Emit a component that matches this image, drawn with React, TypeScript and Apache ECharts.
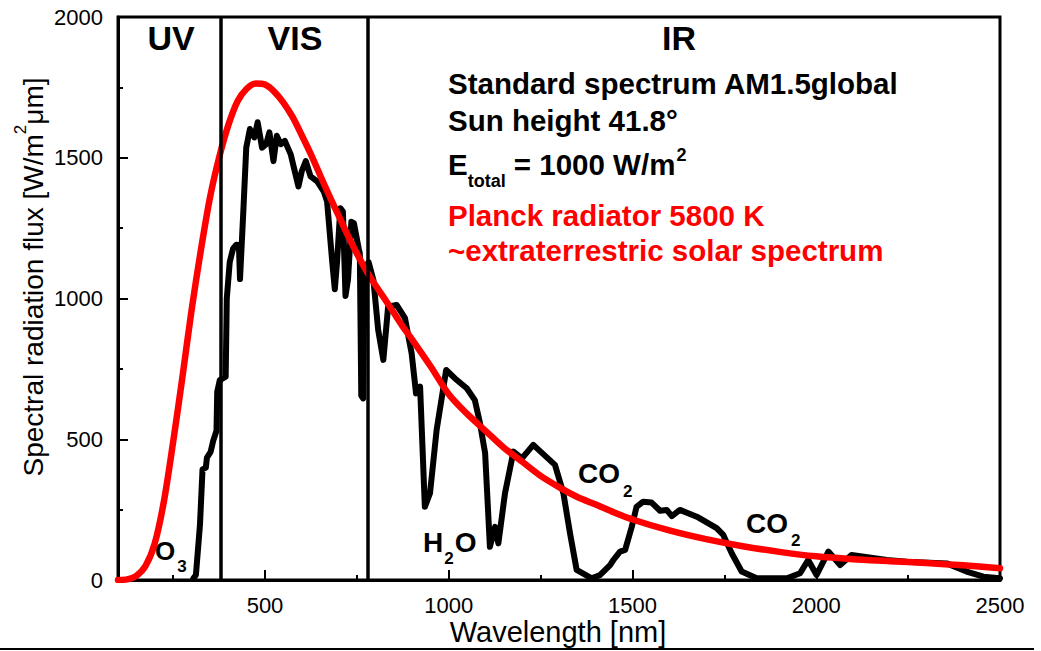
import React, { useEffect, useRef } from "react";
import * as echarts from "echarts";

const FONT = "'Liberation Sans', Arial, Helvetica, sans-serif";

// AM1.5 global standard spectrum
const amWavelength = [
  305, 312, 323, 330, 339, 342, 352, 359, 368, 370, 377, 393, 396, 404, 413, 422, 429, 432, 441, 449,
  459, 471, 480, 492, 503, 512, 523, 532, 543, 554, 570, 581, 591, 600, 611, 624, 642, 660, 669, 683,
  690, 696, 705, 712, 719, 726, 735, 742, 755, 758, 762, 767, 771, 782, 795, 808, 822, 835, 858, 881,
  899, 911, 922, 935, 949, 967, 993, 1017, 1049, 1071, 1085, 1099, 1112, 1126, 1135, 1153, 1176, 1199, 1230, 1289,
  1312, 1330, 1348, 1389, 1412, 1439, 1448, 1466, 1480, 1498, 1511, 1529, 1552, 1575, 1593, 1607, 1629, 1675, 1729, 1747,
  1770, 1797, 1838, 1920, 1956, 1978, 2001, 2033, 2065, 2096, 2192, 2246, 2355, 2409, 2455, 2500,
];
const amFlux = [
  5, 18, 195, 393, 399, 435, 455, 494, 530, 668, 710, 722, 1000, 1129, 1177, 1191, 1189, 1069, 1309, 1536,
  1602, 1572, 1626, 1536, 1548, 1590, 1488, 1578, 1548, 1560, 1512, 1452, 1398, 1452, 1488, 1434, 1416, 1380, 1344, 1129,
  1033, 1129, 1321, 1309, 1009, 1069, 1273, 1267, 1177, 1160, 655, 645, 1110, 1129, 1066, 888, 782, 971, 977, 930,
  805, 663, 687, 260, 308, 533, 746, 716, 681, 639, 557, 450, 118, 189, 130, 308, 456, 432, 480, 409,
  308, 166, 36, 6, 18, 53, 71, 101, 107, 189, 260, 278, 275, 246, 249, 227, 249, 225, 184, 160,
  95, 30, 6, 6, 24, 71, 18, 101, 53, 89, 71, 65, 59, 30, 12, 6,
];

// Planck radiator 5800 K
const planckWavelength = [
  100, 125, 150, 175, 200, 225, 250, 275, 300, 325, 350, 375, 400, 425, 450, 475, 500, 525, 550, 575,
  600, 625, 650, 675, 700, 725, 750, 775, 800, 825, 850, 875, 900, 950, 1000, 1050, 1100, 1150, 1200, 1250,
  1300, 1350, 1400, 1450, 1500, 1600, 1700, 1800, 1900, 2000, 2100, 2200, 2300, 2400, 2500,
];
const planckFlux = [
  0, 2, 15, 50, 130, 280, 490, 718, 957, 1168, 1357, 1500, 1615, 1700, 1745, 1764, 1760, 1735, 1696, 1645,
  1580, 1512, 1438, 1365, 1295, 1225, 1160, 1100, 1048, 1000, 950, 900, 855, 760, 660, 590, 530, 470, 420, 370,
  330, 295, 268, 240, 215, 176, 145, 120, 100, 84, 74, 67, 60, 52, 42,
];

const xMajorTicks = [500, 1000, 1500, 2000, 2500];
const xMinorTicks = [250, 750, 1250, 1750, 2250];
const regionBounds = [380, 780];

function measure(text: string, size: number, weight = "normal"): number {
  const c = document.createElement("canvas").getContext("2d");
  if (!c) return text.length * size * 0.55;
  c.font = `${weight} ${size}px ${FONT}`;
  return c.measureText(text).width;
}

function txt(x: number, y: number, text: string, size: number, opts: any = {}) {
  const align = opts.align || "left";
  return {
    type: "text",
    x,
    y,
    silent: true,
    z: 100,
    style: {
      text,
      fontSize: size,
      fontWeight: opts.weight || "bold",
      fontFamily: FONT,
      fill: opts.color || "#000",
      align,
      textAlign: align,
      verticalAlign: "middle",
      textVerticalAlign: "middle",
    },
  };
}

function buildGraphics() {
  const g: any[] = [];
  // Regions
  g.push(txt(171, 38, "UV", 34, { align: "center" }));
  g.push(txt(295, 38, "VIS", 34, { align: "center" }));
  g.push(txt(679, 38, "IR", 34, { align: "center" }));

  // Text block
  const bx = 448;
  const bs = 29.5;
  g.push(txt(bx, 83, "Standard spectrum AM1.5global", bs));
  g.push(txt(bx, 120, "Sun height 41.8°", bs));
  const wE = measure("E", bs, "bold");
  g.push(txt(bx, 164, "E", bs));
  g.push(txt(bx + wE, 181, "total", 18));
  const xEq = bx + wE + measure("total", 18, "bold") + measure(" ", bs, "bold");
  g.push(txt(xEq, 164, "= 1000 W/m", bs));
  g.push(txt(xEq + measure("= 1000 W/m", bs, "bold") + 1, 155, "2", 18));
  g.push(txt(bx, 215, "Planck radiator 5800 K", bs, { color: "#ff0000" }));
  g.push(txt(bx, 250, "~extraterrestric solar spectrum", bs, { color: "#ff0000" }));

  // Absorption labels
  const wO26 = measure("O", 26, "bold");
  g.push(txt(155, 551, "O", 26));
  g.push(txt(155 + wO26 + 2, 566, "3", 17));

  const wH = measure("H", 28, "bold");
  const w2 = measure("2", 17, "bold");
  g.push(txt(423, 542, "H", 28));
  g.push(txt(423 + wH + 1, 558, "2", 17));
  g.push(txt(423 + wH + w2 + 2, 542, "O", 28));

  const wCO = measure("CO", 28, "bold");
  g.push(txt(578, 473, "CO", 28));
  g.push(txt(578 + wCO + 3, 491, "2", 17));
  g.push(txt(746, 523, "CO", 28));
  g.push(txt(746 + wCO + 3, 540, "2", 17));

  // Axis titles
  g.push(txt(558, 632, "Wavelength [nm]", 29, { align: "center", weight: "normal" }));

  const p1 = "Spectral radiation flux [W/m";
  const p2 = "2";
  const p3 = "μm]";
  const w1 = measure(p1, 28);
  const wS = measure(p2, 17);
  const w3 = measure(p3, 28);
  const L = w1 + wS + w3;
  g.push({
    type: "group",
    x: 33,
    y: 277,
    rotation: Math.PI / 2,
    silent: true,
    children: [
      txt(-L / 2, 0, p1, 28, { weight: "normal" }),
      txt(-L / 2 + w1, -13, p2, 17, { weight: "normal" }),
      txt(-L / 2 + w1 + wS, 0, p3, 28, { weight: "normal" }),
    ],
  });

  // Bottom rule
  g.push({
    type: "line",
    silent: true,
    shape: { x1: 0, y1: 649, x2: 1034, y2: 649 },
    style: { stroke: "#000", lineWidth: 2 },
  });
  return g;
}

const plain = (v: number) => String(v);

export default function App() {
  const ref = useRef<HTMLDivElement>(null);

  useEffect(() => {
    if (!ref.current) return;
    const chart = echarts.init(ref.current, undefined, { renderer: "svg" });
    const tickStyle = { color: "#000", width: 2 };
    const option: any = {
      animation: false,
      backgroundColor: "#fff",
      grid: {
        left: 118,
        right: 41,
        top: 17,
        bottom: 71,
        show: true,
        borderColor: "#000",
        borderWidth: 3,
      },
      xAxis: [
        {
          type: "value",
          min: 100,
          max: 2500,
          position: "bottom",
          axisLine: { show: true, onZero: false, lineStyle: { color: "#000", width: 3 } },
          axisTick: { show: true, inside: true, length: 10, customValues: xMajorTicks, lineStyle: tickStyle },
          axisLabel: {
            show: true,
            customValues: xMajorTicks,
            formatter: plain,
            color: "#000",
            fontSize: 22,
            fontFamily: FONT,
            margin: 14,
          },
          splitLine: { show: false },
        },
        {
          type: "value",
          min: 100,
          max: 2500,
          position: "bottom",
          axisLine: { show: false, onZero: false },
          axisTick: { show: true, inside: true, length: 5, customValues: xMinorTicks, lineStyle: tickStyle },
          axisLabel: { show: false },
          splitLine: { show: false },
        },
      ],
      yAxis: {
        type: "value",
        min: 0,
        max: 2000,
        interval: 500,
        axisLine: { show: true, onZero: false, lineStyle: { color: "#000", width: 3 } },
        axisTick: { show: true, inside: true, length: 10, lineStyle: tickStyle },
        minorTick: { show: true, splitNumber: 2, length: 5, lineStyle: tickStyle },
        axisLabel: { color: "#000", fontSize: 22, fontFamily: FONT, margin: 15, formatter: plain },
        splitLine: { show: false },
        minorSplitLine: { show: false },
      },
      series: [
        {
          name: "AM1.5global",
          type: "line",
          xAxisIndex: 0,
          data: amWavelength.map((w, i) => [w, amFlux[i]]),
          symbol: "none",
          showSymbol: false,
          lineStyle: { color: "#000", width: 6, join: "round", cap: "round" },
          z: 2,
          emphasis: { disabled: true },
          markLine: {
            silent: true,
            symbol: ["none", "none"],
            label: { show: false },
            lineStyle: { color: "#000", width: 3.5, type: "solid" },
            emphasis: { disabled: true },
            data: regionBounds.map((v) => ({ xAxis: v })),
          },
        },
        {
          name: "Planck 5800 K",
          type: "line",
          xAxisIndex: 0,
          data: planckWavelength.map((w, i) => [w, planckFlux[i]]),
          symbol: "none",
          showSymbol: false,
          smooth: 0.3,
          lineStyle: { color: "#ff0000", width: 6.5, join: "round", cap: "round" },
          z: 3,
          emphasis: { disabled: true },
        },
      ],
      graphic: buildGraphics(),
    };
    chart.setOption(option);
    return () => chart.dispose();
  }, []);

  return (
    <div
      ref={ref}
      style={{ position: "fixed", left: 0, top: 0, width: 1041, height: 651, background: "#fff" }}
    />
  );
}
